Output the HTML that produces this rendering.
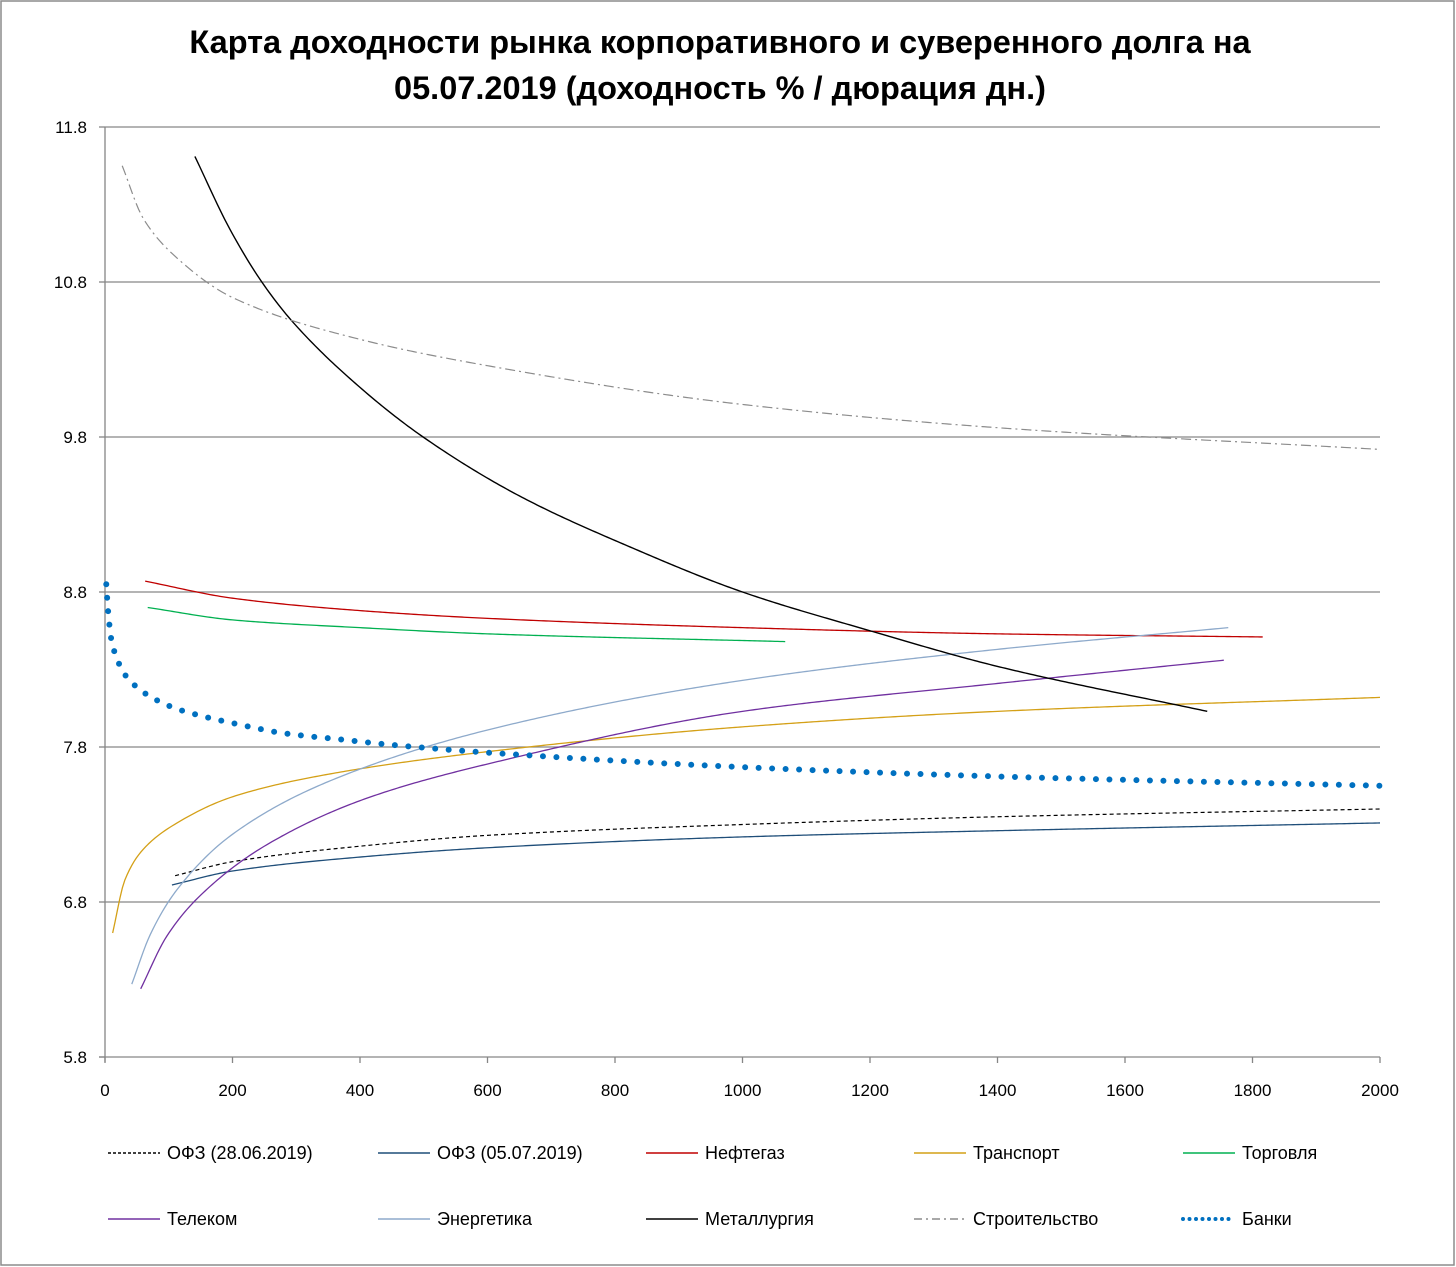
<!DOCTYPE html>
<html><head><meta charset="utf-8">
<style>
html,body{margin:0;padding:0;background:#fff;}
svg{display:block;font-family:"Liberation Sans",sans-serif;}
</style></head>
<body>
<svg id="chart" width="1456" height="1267" viewBox="0 0 1456 1267" xmlns="http://www.w3.org/2000/svg">
<rect x="1" y="1" width="1453" height="1264" fill="#fff" stroke="#8c8c8c" stroke-width="1.5"/>
<text x="720" y="53" text-anchor="middle" font-size="32.5" font-weight="bold">Карта доходности рынка корпоративного и суверенного долга на</text>
<text x="720" y="99" text-anchor="middle" font-size="32.5" font-weight="bold">05.07.2019 (доходность % / дюрация дн.)</text>
<g id="grid"></g>
<g id="axes"></g>
<g id="series"></g>
<g id="legend"></g>
</svg>
<script>
const yTicks = [5.8, 6.8, 7.8, 8.8, 9.8, 10.8, 11.8];
const xTicks = [0, 200, 400, 600, 800, 1000, 1200, 1400, 1600, 1800, 2000];
const seriesNames = ["ОФЗ (28.06.2019)","ОФЗ (05.07.2019)","Нефтегаз","Транспорт","Торговля","Телеком","Энергетика","Металлургия","Строительство","Банки"];
const ofz2806X = [110, 200, 400, 600, 1000, 1400, 2000];
const ofz2806Y = [6.97, 7.06, 7.16, 7.23, 7.30, 7.35, 7.40];
const ofz0507X = [105, 200, 400, 600, 1000, 1400, 2000];
const ofz0507Y = [6.91, 7.00, 7.09, 7.15, 7.22, 7.26, 7.31];
const neftegazX = [63, 200, 400, 600, 1000, 1400, 1816];
const neftegazY = [8.87, 8.76, 8.68, 8.63, 8.57, 8.53, 8.51];
const transportX = [12, 31, 60, 113, 201, 358, 600, 1000, 1400, 2000];
const transportY = [6.60, 6.94, 7.14, 7.31, 7.48, 7.63, 7.77, 7.93, 8.03, 8.12];
const torgovlyaX = [67, 200, 400, 600, 1067];
const torgovlyaY = [8.70, 8.62, 8.57, 8.53, 8.48];
const telecomX = [56, 97, 149, 254, 411, 620, 1000, 1400, 1755];
const telecomY = [6.24, 6.58, 6.84, 7.17, 7.47, 7.71, 8.03, 8.21, 8.36];
const energyX = [42, 71, 113, 201, 358, 620, 1000, 1400, 1762];
const energyY = [6.27, 6.59, 6.88, 7.24, 7.59, 7.93, 8.23, 8.43, 8.57];
const metalX = [141, 196, 246, 295, 400, 499, 650, 824, 1000, 1200, 1400, 1729];
const metalY = [11.61, 11.14, 10.80, 10.54, 10.12, 9.80, 9.42, 9.09, 8.80, 8.55, 8.32, 8.03];
const buildX = [27, 60, 117, 200, 400, 600, 1000, 1400, 2000];
const buildY = [11.55, 11.21, 10.94, 10.70, 10.43, 10.26, 10.01, 9.86, 9.72];
const banksX = [2, 5, 10, 16, 24, 36, 52, 69, 110, 152, 216, 278, 366, 460, 614, 1000, 1400, 2000];
const banksY = [8.85, 8.67, 8.49, 8.40, 8.32, 8.24, 8.18, 8.13, 8.05, 8.00, 7.94, 7.89, 7.85, 7.81, 7.76, 7.67, 7.61, 7.55];

const NS = "http://www.w3.org/2000/svg";
const X0 = 105, X1 = 1380, Y0 = 1057, Y1 = 127;
function xs(d){ return X0 + (d - 0) / (2000 - 0) * (X1 - X0); }
function ys(v){ return Y0 - (v - 5.8) / (11.8 - 5.8) * (Y0 - Y1); }
function mk(tag, attrs, parent){ const e = document.createElementNS(NS, tag); for (const k in attrs) e.setAttribute(k, attrs[k]); parent.appendChild(e); return e; }

const grid = document.getElementById('grid');
const axes = document.getElementById('axes');
yTicks.forEach(function(t){
  const y = ys(t);
  if (t !== 5.8) {
    const g = mk('line', {x1: X0, x2: X1, y1: y, y2: y, stroke: '#868686', 'stroke-width': 1.3}, grid);
    
    
  }
  const tk = mk('line', {x1: 99, x2: X0, y1: y, y2: y, stroke: '#868686', 'stroke-width': 1.3}, axes);
  
  
  const tx = mk('text', {x: 87, y: y + 6, 'text-anchor': 'end', 'font-size': 17}, axes);
  tx.textContent = t.toFixed(1);
  
  
});
const ya = mk('line', {x1: X0, x2: X0, y1: Y1, y2: Y0 + 5, stroke: '#868686', 'stroke-width': 1.3}, axes);


const xa = mk('line', {x1: X0 - 6, x2: X1, y1: Y0, y2: Y0, stroke: '#868686', 'stroke-width': 1.3}, axes);


xTicks.forEach(function(t){
  const x = xs(t);
  const tk = mk('line', {x1: x, x2: x, y1: Y0, y2: Y0 + 6, stroke: '#868686', 'stroke-width': 1.3}, axes);
  
  
  const tx = mk('text', {x: x, y: Y0 + 39, 'text-anchor': 'middle', 'font-size': 17}, axes);
  tx.textContent = String(t);
  
  
});

// monotone cubic (Fritsch-Carlson) interpolation in data space, sampled densely
function smoothPath(X, Y){
  const n = X.length;
  const dx = [], m = [], t = [];
  for (let i = 0; i < n - 1; i++) { dx.push(X[i + 1] - X[i]); m.push((Y[i + 1] - Y[i]) / dx[i]); }
  t[0] = m[0]; t[n - 1] = m[n - 2];
  for (let i = 1; i < n - 1; i++) {
    if (m[i - 1] * m[i] <= 0) t[i] = 0;
    else { const w1 = 2 * dx[i] + dx[i - 1], w2 = dx[i] + 2 * dx[i - 1]; t[i] = (w1 + w2) / (w1 / m[i - 1] + w2 / m[i]); }
  }
  let s = 'M' + xs(X[0]).toFixed(2) + ',' + ys(Y[0]).toFixed(2);
  for (let i = 0; i < n - 1; i++) {
    const steps = Math.max(4, Math.ceil(dx[i] / 4));
    for (let k = 1; k <= steps; k++) {
      const u = k / steps, h = dx[i];
      const h00 = 2*u*u*u - 3*u*u + 1, h10 = u*u*u - 2*u*u + u, h01 = -2*u*u*u + 3*u*u, h11 = u*u*u - u*u;
      const v = h00 * Y[i] + h10 * h * t[i] + h01 * Y[i + 1] + h11 * h * t[i + 1];
      s += ' L' + xs(X[i] + u * h).toFixed(2) + ',' + ys(v).toFixed(2);
    }
  }
  return s;
}
const styles = [
  {X: ofz2806X, Y: ofz2806Y, color: '#000', w: 1.2, dash: '4 3', name: 'series-ofz-2806'},
  {X: ofz0507X, Y: ofz0507Y, color: '#1f4e79', w: 1.3, dash: '', name: 'series-ofz-0507'},
  {X: neftegazX, Y: neftegazY, color: '#c00000', w: 1.3, dash: '', name: 'series-neftegaz'},
  {X: transportX, Y: transportY, color: '#d4a017', w: 1.3, dash: '', name: 'series-transport'},
  {X: torgovlyaX, Y: torgovlyaY, color: '#00b050', w: 1.3, dash: '', name: 'series-torgovlya'},
  {X: telecomX, Y: telecomY, color: '#7030a0', w: 1.3, dash: '', name: 'series-telecom'},
  {X: energyX, Y: energyY, color: '#8eaacb', w: 1.3, dash: '', name: 'series-energetika'},
  {X: metalX, Y: metalY, color: '#000', w: 1.4, dash: '', name: 'series-metallurgiya'},
  {X: buildX, Y: buildY, color: '#8c8c8c', w: 1.2, dash: '10 4 2 4', name: 'series-stroitelstvo'},
  {X: banksX, Y: banksY, color: '#0070c0', w: 6, dash: '0 13.5', name: 'series-banki'}
];
const sg = document.getElementById('series');
styles.forEach(function(s){
  const a = {d: smoothPath(s.X, s.Y), fill: 'none', stroke: s.color, 'stroke-width': s.w, 'stroke-linejoin': 'round'};
  if (s.dash) a['stroke-dasharray'] = s.dash;
  if (s.name === 'series-banki') a['stroke-linecap'] = 'round';
  const p = mk('path', a, sg);
  
  
});

const lg = document.getElementById('legend');
const colX = [108, 378, 646, 914, 1183];
const rowY = [1153, 1219];
styles.forEach(function(s, i){
  const x = colX[i % 5], y = rowY[Math.floor(i / 5)];
  const g = mk('g', {}, lg);
  
  
  const la = {x1: x, x2: x + 52, y1: y, y2: y, stroke: s.color, 'stroke-width': s.name === 'series-banki' ? 4 : 1.4};
  if (s.dash) la['stroke-dasharray'] = s.name === 'series-banki' ? '0 6.5' : (s.name === 'series-ofz-2806' ? '3 2' : '8 4 2 4');
  if (s.name === 'series-banki') la['stroke-linecap'] = 'round';
  mk('line', la, g);
  const t = mk('text', {x: x + 59, y: y + 6, 'font-size': 18}, g);
  t.textContent = seriesNames[i];
});
</script>
</body></html>
